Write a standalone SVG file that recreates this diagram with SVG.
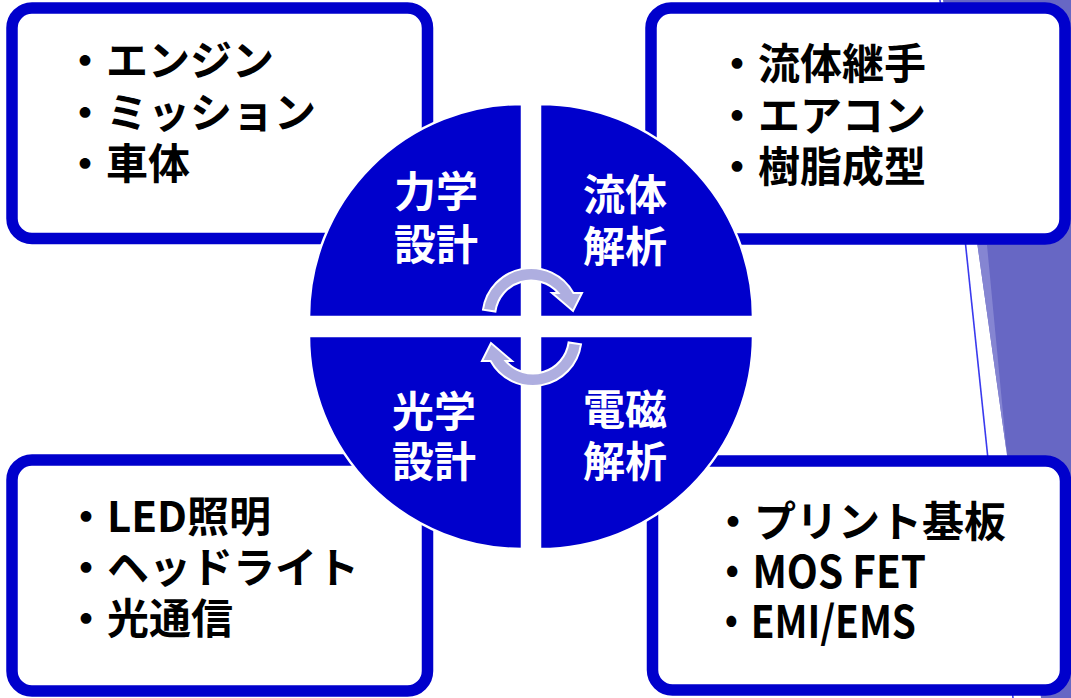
<svg xmlns="http://www.w3.org/2000/svg" width="1071" height="698" viewBox="0 0 1071 698">
<defs>
<style>
.box{fill:#ffffff;stroke:#0000cc;stroke-width:11.5}
.pie{fill:#0000cc;stroke:#ffffff;stroke-width:2.5}
.arr{fill:#aeaee0;stroke:#ffffff;stroke-width:2}
.item{font-family:"Noto Sans CJK JP","Noto Sans",sans-serif;font-weight:700;font-size:42px;fill:#000000}
.latin{font-size:44px}
.lbl{font-family:"Noto Sans CJK JP","Noto Sans",sans-serif;font-weight:700;font-size:42px;fill:#ffffff;text-anchor:middle}
</style>
</defs>
<rect x="0" y="0" width="1071" height="698" fill="#ffffff"/>
<g id="background">
<polygon points="943,0 1071,0 1071,698 1041,698 1007,455" fill="#6767c4"/>
<polygon points="943,0 978,245 987,245 1007,455" fill="#8585d2"/>
<line x1="940" y1="0" x2="1013" y2="698" stroke="#3a3aee" stroke-width="1.6"/>
</g>
<g id="box-tl">
<rect class="box" x="12" y="8" width="415.5" height="230.5" rx="20"/>
<text class="item" x="64" y="76">・エンジン</text>
<text class="item" x="64" y="127.5">・ミッション</text>
<text class="item" x="64" y="179">・車体</text>
</g>
<g id="box-tr">
<rect class="box" x="651" y="8" width="414" height="231" rx="20"/>
<text class="item" x="716" y="79">・流体継手</text>
<text class="item" x="716" y="130.5">・エアコン</text>
<text class="item" x="716" y="182">・樹脂成型</text>
</g>
<g id="box-bl">
<rect class="box" x="12" y="460" width="415.5" height="231" rx="20"/>
<text class="item" x="65" y="532">・LED照明</text>
<text class="item" x="65" y="583">・ヘッドライト</text>
<text class="item" x="65" y="634">・光通信</text>
</g>
<g id="box-br">
<rect class="box" x="652.5" y="461" width="413" height="229" rx="20"/>
<text class="item" x="712" y="537">・プリント基板</text>
<text class="item latin" x="712" y="588" textLength="214" lengthAdjust="spacingAndGlyphs">・MOS FET</text>
<text class="item latin" x="712" y="638" textLength="204" lengthAdjust="spacingAndGlyphs">・EMI/EMS</text>
</g>
<g id="q-mechanical">
<path class="pie" d="M522,317 L309,317 A213,213 0 0 1 522,104 Z"/>
<text class="lbl" x="436" y="207">力学</text>
<text class="lbl" x="436" y="260">設計</text>
</g>
<g id="q-fluid">
<path class="pie" d="M540,317 L540,104 A213,213 0 0 1 753,317 Z"/>
<text class="lbl" x="625" y="210">流体</text>
<text class="lbl" x="625" y="262">解析</text>
</g>
<g id="q-optical">
<path class="pie" d="M522,336 L522,549 A213,213 0 0 1 309,336 Z"/>
<text class="lbl" x="434" y="427">光学</text>
<text class="lbl" x="434" y="477">設計</text>
</g>
<g id="q-em">
<path class="pie" d="M540,336 L753,336 A213,213 0 0 1 540,549 Z"/>
<text class="lbl" x="625" y="425">電磁</text>
<text class="lbl" x="625" y="477">解析</text>
</g>
<g id="connectors">
<path id="arrow-top" class="arr" d="M483,309.7 A48.5,48.5 0 0 1 573.4,293 L582,293 L573,311 L552,293 L558.3,293 A36,36 0 0 0 495.4,311.5 Z"/>
<path id="arrow-bottom" class="arr" transform="rotate(180 532 327)" d="M483,309.7 A48.5,48.5 0 0 1 573.4,293 L582,293 L573,311 L552,293 L558.3,293 A36,36 0 0 0 495.4,311.5 Z"/>
</g>
</svg>
